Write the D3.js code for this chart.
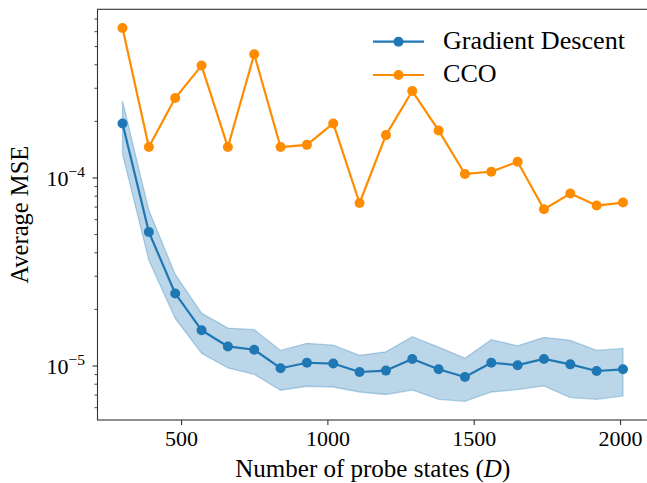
<!DOCTYPE html>
<html>
<head>
<meta charset="utf-8">
<script src="https://cdn.jsdelivr.net/npm/d3@7"></script>
<style>
  body { margin: 0; background: #fff; }
  text { font-family: "Liberation Serif", "DejaVu Serif", serif; fill: #000; }
</style>
</head>
<body>
<svg width="647" height="483"></svg>
<script>
// probe state counts (D)
const probeStates = [300, 390, 480, 570, 660, 750, 840, 930, 1020, 1110,
                     1200, 1290, 1380, 1470, 1560, 1650, 1740, 1830, 1920, 2010];

// gradient descent mean and band
const gdMean = [1.95e-4, 5.16e-5, 2.43e-5, 1.55e-5, 1.27e-5, 1.22e-5, 9.73e-6, 1.04e-5, 1.03e-5, 9.29e-6,
                9.45e-6, 1.09e-5, 9.60e-6, 8.74e-6, 1.04e-5, 1.01e-5, 1.09e-5, 1.02e-5, 9.40e-6, 9.60e-6];
const gdUpper = [2.57e-4, 6.73e-5, 3.07e-5, 1.91e-5, 1.59e-5, 1.56e-5, 1.21e-5, 1.32e-5, 1.29e-5, 1.14e-5,
                 1.19e-5, 1.43e-5, 1.26e-5, 1.10e-5, 1.38e-5, 1.28e-5, 1.42e-5, 1.37e-5, 1.21e-5, 1.24e-5];
const gdLower = [1.34e-4, 3.65e-5, 1.79e-5, 1.17e-5, 9.76e-6, 9.03e-6, 7.43e-6, 7.80e-6, 7.73e-6, 7.27e-6,
                 7.05e-6, 7.45e-6, 6.65e-6, 6.49e-6, 7.27e-6, 7.49e-6, 7.83e-6, 6.79e-6, 6.65e-6, 6.92e-6];

// CCO
const ccoMean = [6.28e-4, 1.46e-4, 2.66e-4, 3.96e-4, 1.46e-4, 4.55e-4, 1.46e-4, 1.50e-4, 1.95e-4, 7.36e-5,
                 1.69e-4, 2.90e-4, 1.79e-4, 1.05e-4, 1.08e-4, 1.22e-4, 6.82e-5, 8.26e-5, 7.13e-5, 7.40e-5];

const xTicks = [500, 1000, 1500, 2000];
const yMajor = [1e-5, 1e-4];
const legendNames = ["Gradient Descent", "CCO"];

const blue = "#1f77b4";
const orange = "#ff8c00";

let margin = {top: 9.3, right: 648, bottom: 420, left: 97.5};

const x = d3.scaleLinear().domain([214.5, 2095.5]).range([margin.left, margin.right]);
const y = d3.scaleLog().domain([5.16e-6, 7.89e-4]).range([margin.bottom, margin.top]);

const svg = d3.select("svg");

// shrink/grow a label's font so it spans the width seen in the reference
function fitWidth(sel, target) {
    const w = sel.node().getComputedTextLength();
    const fs = +sel.attr("font-size");
    sel.attr("font-size", fs * target / w);
    return fs * target / w;
}

svg.append("defs").append("clipPath").attr("id", "clip")
    .append("rect").attr("x", margin.left).attr("y", margin.top)
    .attr("width", margin.right - margin.left).attr("height", margin.bottom - margin.top);

const plot = svg.append("g").attr("clip-path", "url(#clip)");

// band
const area = d3.area()
    .x((d, i) => x(probeStates[i]))
    .y0((d, i) => y(gdLower[i]))
    .y1((d, i) => y(gdUpper[i]));

plot.append("path")
    .datum(gdMean)
    .attr("d", area)
    .attr("fill", blue)
    .attr("fill-opacity", 0.3)
    .attr("stroke", blue)
    .attr("stroke-opacity", 0.3)
    .attr("stroke-width", 1.3);

const line = d3.line().x((d, i) => x(probeStates[i])).y(d => y(d));

function series(vals, color) {
    plot.append("path")
        .datum(vals)
        .attr("d", line)
        .attr("fill", "none")
        .attr("stroke", color)
        .attr("stroke-width", 2.2)
        .attr("stroke-linejoin", "round");
    plot.append("g")
        .selectAll("circle")
        .data(vals)
        .join("circle")
        .attr("cx", (d, i) => x(probeStates[i]))
        .attr("cy", d => y(d))
        .attr("r", 5)
        .attr("fill", color);
}

series(gdMean, blue);
series(ccoMean, orange);

// frame
const axisColor = "#333";
svg.append("rect")
    .attr("x", margin.left).attr("y", margin.top)
    .attr("width", margin.right - margin.left).attr("height", margin.bottom - margin.top)
    .attr("fill", "none")
    .attr("stroke", axisColor)
    .attr("stroke-width", 1.1);

// x axis
const xAxis = d3.axisBottom(x).tickValues(xTicks).tickFormat(d3.format("d"))
    .tickSize(5).tickPadding(5);
const gx = svg.append("g").attr("transform", `translate(0,${margin.bottom})`).call(xAxis);
gx.select(".domain").remove();
gx.selectAll(".tick line").attr("stroke", axisColor).attr("stroke-width", 1.1);
gx.selectAll(".tick text")
    .attr("font-size", 22)
    .attr("font-family", "Liberation Serif")
    .attr("fill", "#000")
    .attr("dy", "0.71em");

// y axis minor ticks
const minor = [];
for (let e = -6; e <= -4; e++) {
    for (let m = 2; m <= 9; m++) {
        const v = m * Math.pow(10, e);
        if (v >= y.domain()[0] && v <= y.domain()[1]) minor.push(v);
    }
}
const gy = svg.append("g");
gy.selectAll("line.minor")
    .data(minor)
    .join("line")
    .attr("class", "minor")
    .attr("x1", margin.left - 3).attr("x2", margin.left)
    .attr("y1", d => y(d)).attr("y2", d => y(d))
    .attr("stroke", axisColor).attr("stroke-width", 0.9);

gy.selectAll("line.major")
    .data(yMajor)
    .join("line")
    .attr("class", "major")
    .attr("x1", margin.left - 5).attr("x2", margin.left)
    .attr("y1", d => y(d)).attr("y2", d => y(d))
    .attr("stroke", axisColor).attr("stroke-width", 1.1);

const yl = gy.selectAll("text.ylab")
    .data(yMajor)
    .join("text")
    .attr("class", "ylab")
    .attr("x", 85)
    .attr("y", d => y(d) + 8.3)
    .attr("text-anchor", "end")
    .attr("font-size", 22);
yl.append("tspan").text("10");
yl.append("tspan")
    .attr("font-size", 15.5)
    .attr("dy", -9.5)
    .text(d => "\u2212" + Math.round(-Math.log10(d)));

// axis labels
const xl = svg.append("text")
    .attr("x", (margin.left + margin.right) / 2)
    .attr("y", 477)
    .attr("text-anchor", "middle")
    .attr("font-size", 22);
xl.append("tspan").text("Number of probe states (");
xl.append("tspan").attr("font-style", "italic").text("D");
xl.append("tspan").text(")");
fitWidth(xl, 275);

const ylab = svg.append("text")
    .attr("transform", `translate(28,${(margin.top + margin.bottom) / 2}) rotate(-90)`)
    .attr("text-anchor", "middle")
    .attr("font-size", 22)
    .text("Average MSE");
fitWidth(ylab, 138);

// legend
const legend = svg.append("g");
const legendColors = [blue, orange];
let legendSize = 22;
legendNames.forEach((name, i) => {
    const ly = 41.7 + i * 33.3;
    legend.append("line")
        .attr("x1", 373).attr("x2", 424)
        .attr("y1", ly).attr("y2", ly)
        .attr("stroke", legendColors[i]).attr("stroke-width", 2.2);
    legend.append("circle")
        .attr("cx", 398.5).attr("cy", ly).attr("r", 5)
        .attr("fill", legendColors[i]);
    const t = legend.append("text")
        .attr("x", 443).attr("y", ly + 6.8)
        .attr("font-size", legendSize)
        .text(name);
    if (i === 0) legendSize = fitWidth(t, 182);
});
</script>
</body>
</html>
